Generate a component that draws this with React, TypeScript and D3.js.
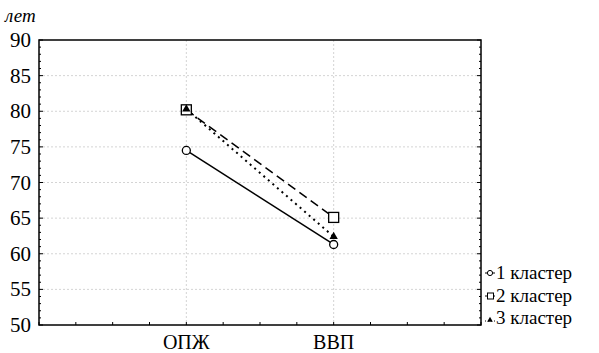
import { useEffect, useRef } from "react";
import * as d3 from "d3";

const categories = ["ОПЖ", "ВВП"];
const series1 = [74.5, 61.3];
const series2 = [80.2, 65.1];
const series3 = [80.3, 62.4];
const seriesNames = ["1 кластер", "2 кластер", "3 кластер"];
const yTicks = [50, 55, 60, 65, 70, 75, 80, 85, 90];
const yLabel = "лет";

function App() {
	const ref = useRef<SVGSVGElement>(null);

	const width = 599;
	const height = 353;
	const margin = { top: 40, right: 118, bottom: 28, left: 39 };

	useEffect(() => {
		drawChart();
	}, []);

	function drawChart() {
		const svg = d3.select(ref.current);
		svg.selectAll("*").remove();

		const x = d3.scaleLinear().domain([0, 3]).range([margin.left, width - margin.right]);
		const y = d3.scaleLinear().domain([50, 90]).range([height - margin.bottom, margin.top]);
		const font = '"Liberation Serif", "DejaVu Serif", "Noto Serif", serif';

		// Grid
		const grid = svg.append("g").attr("stroke", "#d4d4d4").attr("stroke-dasharray", "2,2").attr("stroke-width", 1);
		yTicks.slice(1, -1).forEach((t) => {
			grid.append("line").attr("x1", x(0)).attr("x2", x(3)).attr("y1", y(t)).attr("y2", y(t));
		});
		categories.forEach((_, i) => {
			grid.append("line").attr("x1", x(i + 1)).attr("x2", x(i + 1)).attr("y1", y(90)).attr("y2", y(50));
		});

		// Minor ticks on left and right
		const ticks = svg.append("g").attr("stroke", "#000").attr("stroke-width", 1);
		d3.range(50, 91, 1).forEach((t) => {
			const len = t % 5 === 0 ? 4 : 2;
			ticks.append("line").attr("x1", x(0)).attr("x2", x(0) + len).attr("y1", y(t)).attr("y2", y(t));
			ticks.append("line").attr("x1", x(3)).attr("x2", x(3) - len).attr("y1", y(t)).attr("y2", y(t));
		});
		d3.range(0, 3.01, 0.25).forEach((t) => {
			ticks.append("line").attr("x1", x(t)).attr("x2", x(t)).attr("y1", y(50)).attr("y2", y(50) - 3);
		});

		// Frame
		svg.append("rect")
			.attr("x", x(0))
			.attr("y", y(90))
			.attr("width", x(3) - x(0))
			.attr("height", y(50) - y(90))
			.attr("fill", "none")
			.attr("stroke", "#000")
			.attr("stroke-width", 1.5);

		const txt = svg.append("g").attr("font-family", font);

		// Y labels
		txt.append("g")
			.selectAll("text")
			.data(yTicks)
			.join("text")
			.attr("x", 31)
			.attr("y", (d) => y(d) + 7)
			.attr("text-anchor", "end")
			.attr("font-size", 21)
			.text((d) => d);

		txt.append("text")
			.attr("x", 5)
			.attr("y", 22)
			.attr("font-style", "italic")
			.attr("font-size", 19)
			.text(yLabel);

		// X labels
		txt.append("g")
			.selectAll("text")
			.data(categories)
			.join("text")
			.attr("x", (_, i) => x(i + 1))
			.attr("y", 349)
			.attr("text-anchor", "middle")
			.attr("font-size", 20)
			.text((d) => d);

		const line = d3
			.line<number>()
			.x((_, i) => x(i + 1))
			.y((d) => y(d));

		svg.append("path").attr("d", line(series1)).attr("fill", "none").attr("stroke", "#000").attr("stroke-width", 1.5);
		svg.append("path")
			.attr("d", line(series2))
			.attr("fill", "none")
			.attr("stroke", "#000")
			.attr("stroke-width", 1.5)
			.attr("stroke-dasharray", "9,5");
		svg.append("path")
			.attr("d", line(series3))
			.attr("fill", "none")
			.attr("stroke", "#000")
			.attr("stroke-width", 2)
			.attr("stroke-dasharray", "2,4");

		// Markers
		series1.forEach((v, i) => {
			svg.append("circle").attr("cx", x(i + 1)).attr("cy", y(v)).attr("r", 4).attr("fill", "#fff").attr("stroke", "#000").attr("stroke-width", 1.3);
		});
		series2.forEach((v, i) => {
			svg.append("rect")
				.attr("x", x(i + 1) - 5)
				.attr("y", y(v) - 5)
				.attr("width", 10)
				.attr("height", 10)
				.attr("fill", "#fff")
				.attr("stroke", "#000")
				.attr("stroke-width", 1.3);
		});
		const tri = d3.symbol().type(d3.symbolTriangle).size(30);
		series3.forEach((v, i) => {
			svg.append("path")
				.attr("d", tri())
				.attr("transform", `translate(${x(i + 1)},${y(v)})`)
				.attr("fill", "#000");
		});

		// Legend
		const lx = 485;
		const rows = [273, 296, 318];
		const legend = svg.append("g").attr("font-family", font).attr("font-size", 19);
		seriesNames.forEach((name, i) => {
			const cy = rows[i];
			if (i === 0) {
				legend.append("line").attr("x1", lx).attr("x2", lx + 10).attr("y1", cy).attr("y2", cy).attr("stroke", "#000");
				legend.append("circle").attr("cx", lx + 5).attr("cy", cy).attr("r", 2.6).attr("fill", "#fff").attr("stroke", "#000");
			} else if (i === 1) {
				legend.append("line").attr("x1", lx).attr("x2", lx + 10).attr("y1", cy).attr("y2", cy).attr("stroke", "#000").attr("stroke-dasharray", "2,1");
				legend.append("rect").attr("x", lx + 2.5).attr("y", cy - 3).attr("width", 6).attr("height", 6).attr("fill", "#fff").attr("stroke", "#000");
			} else {
				legend.append("line").attr("x1", lx).attr("x2", lx + 10).attr("y1", cy + 3).attr("y2", cy + 3).attr("stroke", "#000").attr("stroke-dasharray", "1,2");
				legend.append("path").attr("d", d3.symbol().type(d3.symbolTriangle).size(14)()).attr("transform", `translate(${lx + 5},${cy + 2})`).attr("fill", "#000");
			}
			legend.append("text").attr("x", lx + 11).attr("y", cy + 6).text(name);
		});
	}

	return (
		<svg
			ref={ref}
			width={width}
			height={height}
			style={{ position: "absolute", left: 0, top: 0, background: "#fff" }}
		/>
	);
}

export default App;
